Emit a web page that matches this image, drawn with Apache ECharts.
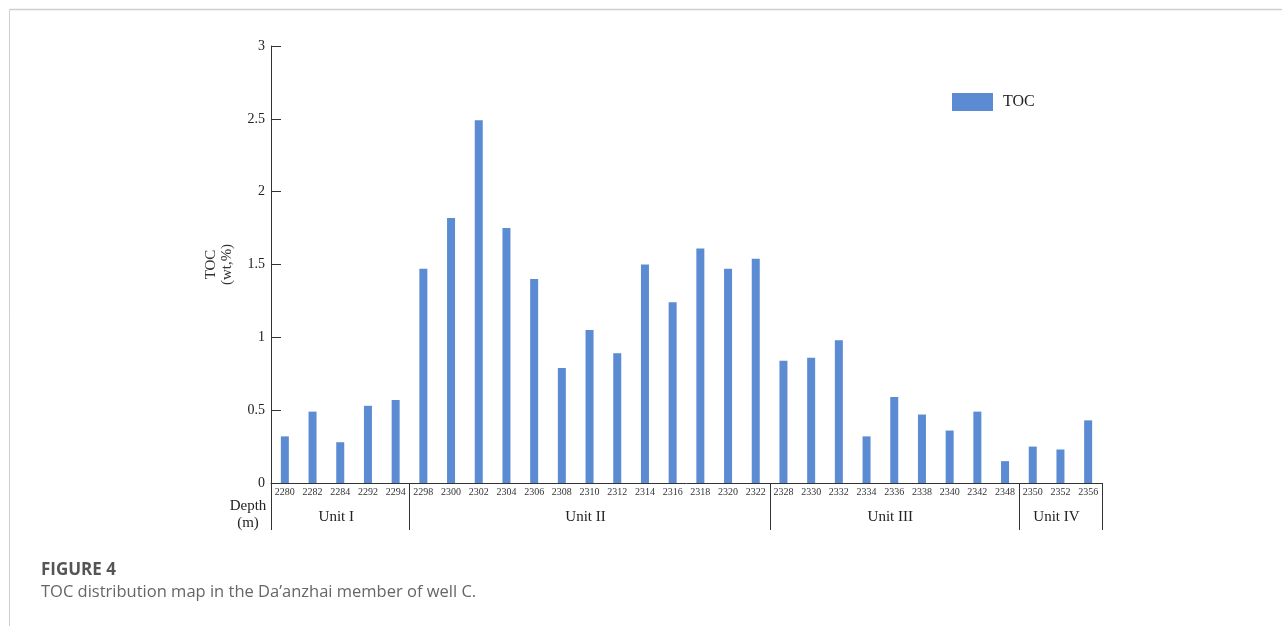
<!DOCTYPE html>
<html>
<head>
<meta charset="utf-8">
<title>TOC distribution</title>
<script src="https://cdn.jsdelivr.net/npm/echarts@6/dist/echarts.min.js"></script>
<style>
  html, body { margin: 0; padding: 0; background: #fff; }
  #chart { width: 1282px; height: 626px; }
</style>
</head>
<body>
<div id="chart"></div>
<script>
// Sample depths (m) and measured TOC (wt,%)
const depths = ['2280','2282','2284','2292','2294','2298','2300','2302','2304','2306',
  '2308','2310','2312','2314','2316','2318','2320','2322','2328','2330',
  '2332','2334','2336','2338','2340','2342','2348','2350','2352','2356'];
const toc = [0.32, 0.49, 0.28, 0.53, 0.57, 1.47, 1.82, 2.49, 1.75, 1.40,
  0.79, 1.05, 0.89, 1.50, 1.24, 1.61, 1.47, 1.54, 0.84, 0.86,
  0.98, 0.32, 0.59, 0.47, 0.36, 0.49, 0.15, 0.25, 0.23, 0.43];
// Stratigraphic units: name and index of the first sample in each unit
const unitNames = ['Unit I', 'Unit II', 'Unit III', 'Unit IV'];
const unitStarts = [0, 5, 18, 27];
const yTicks = [0, 0.5, 1, 1.5, 2, 2.5, 3];

const SERIF = '"Liberation Serif", "DejaVu Serif", serif';
const SANS = '"Open Sans", "Noto Sans", sans-serif';
const BLUE = '#5b8bd2';
const INK = '#333';

const chart = echarts.init(document.getElementById('chart'));

const option = {
  animation: false,
  backgroundColor: '#fff',
  grid: { left: 271, top: 46, right: 180, bottom: 143, containLabel: false },
  legend: {
    data: ['TOC'],
    left: 947, top: 88,
    itemWidth: 41, itemHeight: 18, icon: 'rect',
    textStyle: { fontFamily: SERIF, fontSize: 16, color: '#222', padding: [0, 0, 0, 5] }
  },
  xAxis: {
    type: 'category',
    data: depths,
    axisLine: { lineStyle: { color: INK, width: 1 } },
    axisTick: { show: false },
    axisLabel: { interval: 0, fontFamily: SERIF, fontSize: 10, color: '#333', margin: 4 }
  },
  yAxis: {
    type: 'value',
    min: yTicks[0], max: yTicks[yTicks.length - 1], interval: 0.5,
    name: 'TOC\n(wt,%)',
    nameLocation: 'middle', nameRotate: 90, nameGap: 36,
    nameTextStyle: { fontFamily: SERIF, fontSize: 15, color: '#333', lineHeight: 16 },
    axisLine: { show: true, lineStyle: { color: INK, width: 1 } },
    axisTick: { show: true, inside: true, length: 10, lineStyle: { color: INK } },
    axisLabel: { fontFamily: SERIF, fontSize: 14, color: '#222', margin: 6 },
    splitLine: { show: false }
  },
  series: [{
    name: 'TOC',
    type: 'bar',
    data: toc,
    barWidth: 8,
    itemStyle: { color: BLUE }
  }]
};
chart.setOption(option);

// Unit brackets below the depth labels, positioned from the category scale
function drawUnits() {
  const c0 = chart.convertToPixel({ xAxisIndex: 0 }, depths[0]);
  const c1 = chart.convertToPixel({ xAxisIndex: 0 }, depths[1]);
  const band = c1 - c0;
  const edge = i => c0 - band / 2 + i * band;
  const y0 = chart.convertToPixel({ yAxisIndex: 0 }, 0);
  const yEnd = y0 + 47;
  const bounds = unitStarts.concat([depths.length]);
  const elements = [];
  bounds.forEach(i => {
    const x = Math.round(edge(i)) + 0.5;
    elements.push({ type: 'line', shape: { x1: x, y1: y0, x2: x, y2: yEnd },
      style: { stroke: INK, lineWidth: 1 }, silent: true });
  });
  unitNames.forEach((name, k) => {
    const mid = (edge(bounds[k]) + edge(bounds[k + 1])) / 2 - 4;
    elements.push({ type: 'text', x: mid, y: y0 + 34,
      style: { text: name, font: '15px ' + SERIF, fill: '#222', align: 'center', verticalAlign: 'middle' },
      silent: true });
  });
  elements.push({ type: 'text', x: edge(0) - 23, y: y0 + 32,
    style: { text: 'Depth\n(m)', font: '15px ' + SERIF, lineHeight: 17, fill: '#222', align: 'center', verticalAlign: 'middle' },
    silent: true });
  // page frame and caption
  elements.push({ type: 'line', shape: { x1: 9.5, y1: 9.5, x2: 1282, y2: 9.5 },
    style: { stroke: '#cfcfcf', lineWidth: 1.5 }, silent: true });
  elements.push({ type: 'line', shape: { x1: 9.5, y1: 9.5, x2: 9.5, y2: 626 },
    style: { stroke: '#cfcfcf', lineWidth: 1 }, silent: true });
  elements.push({ type: 'text', x: 41, y: 570,
    style: { text: 'FIGURE 4', font: 'bold 17px ' + SANS, fill: '#555', verticalAlign: 'middle' },
    silent: true });
  elements.push({ type: 'text', x: 41, y: 592,
    style: { text: 'TOC distribution map in the Da\u2019anzhai member of well C.', font: '16.5px ' + SANS, fill: '#666', verticalAlign: 'middle' },
    silent: true });
  chart.setOption({ graphic: { elements } });
}
drawUnits();
</script>
</body>
</html>
